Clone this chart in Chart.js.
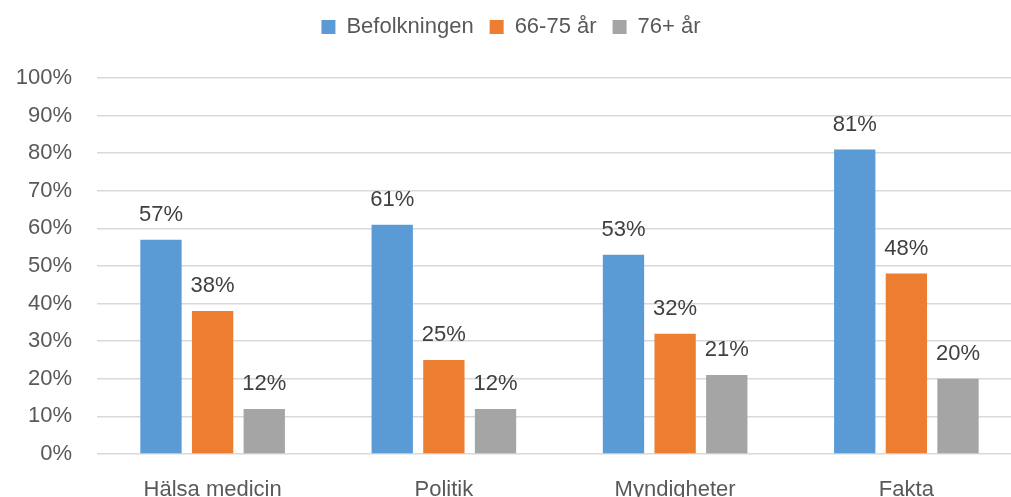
<!DOCTYPE html>
<html><head><meta charset="utf-8">
<script src="https://cdn.jsdelivr.net/npm/chart.js@4"></script>
<style>html,body{margin:0;padding:0;overflow:hidden;background:#fff}#wrap{width:1022px;height:497px}</style>
</head><body><div id="wrap"><canvas id="c" width="1022" height="497"></canvas></div>
<script>
const categories = ['Hälsa medicin', 'Politik', 'Myndigheter', 'Fakta'];
const seriesNames = ['Befolkningen', '66-75 år', '76+ år'];
const befolkningen = [57, 61, 53, 81];
const age66to75 = [38, 25, 32, 48];
const age76plus = [12, 12, 21, 20];
const colors = ['#5B9BD5', '#ED7D31', '#A5A5A5'];
const yTicks = [0,10,20,30,40,50,60,70,80,90,100];

const FONT = '"Liberation Sans", Arial, sans-serif';
const FS = 22;

const legendFix = {
  id: 'legendFix',
  beforeLayout(chart) {
    const l = chart.legend;
    if (l && !l._patched) {
      const of = l.fit.bind(l);
      l.fit = function() { of(); this.height = 78; };
      l._patched = true;
    }
  }
};
const valueLabels = {
  id: 'valueLabels',
  afterDatasetsDraw(chart) {
    const ctx = chart.ctx;
    ctx.save();
    ctx.font = FS + 'px ' + FONT;
    ctx.fillStyle = '#404040';
    ctx.textAlign = 'center';
    ctx.textBaseline = 'middle';
    chart.data.datasets.forEach((ds, i) => {
      const meta = chart.getDatasetMeta(i);
      meta.data.forEach((el, j) => {
        ctx.fillText(ds.data[j] + '%', el.x, el.y - 25);
      });
    });
    ctx.restore();
  }
};

new Chart(document.getElementById('c'), {
  type: 'bar',
  data: {
    labels: categories,
    datasets: [
      { label: seriesNames[0], data: befolkningen, backgroundColor: colors[0] },
      { label: seriesNames[1], data: age66to75, backgroundColor: colors[1] },
      { label: seriesNames[2], data: age76plus, backgroundColor: colors[2] }
    ]
  },
  options: {
    responsive: false,
    animation: false,
    devicePixelRatio: 1,
    layout: { padding: 0 },
    datasets: { bar: { barPercentage: 0.8, categoryPercentage: 0.67 } },
    plugins: {
      tooltip: { enabled: false },
      legend: {
        position: 'top',
        labels: {
          boxWidth: 14, boxHeight: 14, padding: 16,
          color: '#595959',
          font: { family: FONT, size: FS }
        }
      }
    },
    scales: {
      x: {
        grid: { display: false, drawTicks: false },
        border: { display: false },
        ticks: { color: '#595959', font: { family: FONT, size: FS }, padding: 23 },
        afterFit(s) { s.height = 43; }
      },
      y: {
        min: 0, max: 100,
        afterBuildTicks(s) { s.ticks = yTicks.map(v => ({ value: v })); },
        grid: { color: '#D9D9D9', lineWidth: 1.5, drawTicks: false },
        border: { display: false },
        ticks: { color: '#595959', font: { family: FONT, size: FS }, padding: 25,
                 callback: v => v + '%' },
        afterFit(s) { s.width = 97; }
      }
    }
  },
  plugins: [legendFix, valueLabels]
});
</script></body></html>
